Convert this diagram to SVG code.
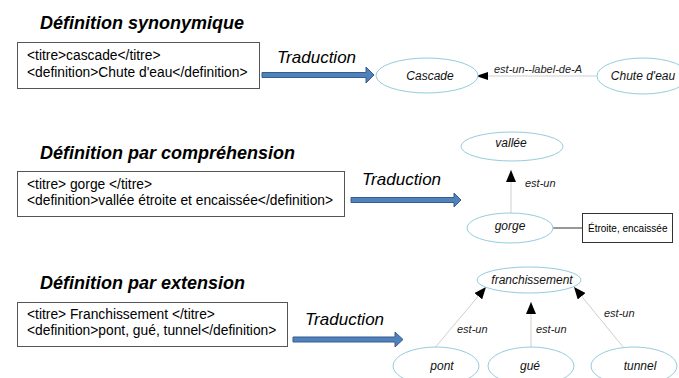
<svg xmlns="http://www.w3.org/2000/svg" width="679" height="378" viewBox="0 0 679 378">
<defs>
<style>
.title{font-family:"Liberation Sans",Arial,sans-serif;font-size:18px;font-weight:bold;font-style:italic;fill:#000}
.box{fill:#fff;stroke:#555;stroke-width:1}
.btxt{font-family:"Liberation Sans",Arial,sans-serif;font-size:13.8px;fill:#000}
.trad{font-family:"Liberation Sans",Arial,sans-serif;font-size:17px;font-style:italic;fill:#000}
.big{fill:#4f81bd;stroke:#385d8a;stroke-width:1}
.node{fill:#fff;stroke:#93cddd;stroke-width:1}
.ntxt{font-family:"Liberation Sans",Arial,sans-serif;font-size:12px;font-style:italic;fill:#111;text-anchor:middle}
.edge{stroke:#cfcfcf;stroke-width:1;fill:none}
.elbl{font-family:"Liberation Sans",Arial,sans-serif;font-size:11px;font-style:italic;fill:#222}
.note{font-family:"Liberation Sans",Arial,sans-serif;font-size:10px;fill:#000}
</style>
<marker id="ah" viewBox="0 0 12 10" refX="12" refY="5" markerWidth="12" markerHeight="10" markerUnits="userSpaceOnUse" orient="auto">
<path d="M0,0 L12,5 L0,10 Z" fill="#000"/>
</marker>
</defs>

<g id="section1">
<text class="title" x="40" y="29">Définition synonymique</text>
<rect class="box" x="17.5" y="42.5" width="242" height="46"/>
<text class="btxt" x="27" y="60">&lt;titre&gt;cascade&lt;/titre&gt;</text>
<text class="btxt" x="27" y="77">&lt;definition&gt;Chute d'eau&lt;/definition&gt;</text>
<text class="trad" x="277" y="63">Traduction</text>
<path class="big" d="M262,72.5 L366,72.5 L366,67 L374,75 L366,83 L366,77.5 L262,77.5 Z"/>
</g>

<g id="section2">
<text class="title" x="40" y="159">Définition par compréhension</text>
<rect class="box" x="17.5" y="171.5" width="327" height="45"/>
<text class="btxt" x="27" y="189">&lt;titre&gt; gorge &lt;/titre&gt;</text>
<text class="btxt" x="27" y="205">&lt;definition&gt;vallée étroite et encaissée&lt;/definition&gt;</text>
<text class="trad" x="362" y="185">Traduction</text>
<path class="big" d="M351,197.5 L454,197.5 L454,193 L461,200 L454,207 L454,202.5 L351,202.5 Z"/>
</g>

<g id="section3">
<text class="title" x="40" y="289">Définition par extension</text>
<rect class="box" x="17.5" y="302.5" width="270" height="44"/>
<text class="btxt" x="27" y="319">&lt;titre&gt; Franchissement &lt;/titre&gt;</text>
<text class="btxt" x="27" y="335">&lt;definition&gt;pont, gué, tunnel&lt;/definition&gt;</text>
<text class="trad" x="305" y="325">Traduction</text>
<path class="big" d="M293,337 L395,337 L395,332 L403,339.5 L395,347 L395,342 L293,342 Z"/>
</g>

<g id="connectors">
<line class="edge" x1="597" y1="76" x2="488" y2="76"/>
<path d="M488,72 L476,76 L488,80 Z" fill="#000"/>
<text class="elbl" x="494" y="73">est-un--label-de-A</text>

<line class="edge" x1="511" y1="213" x2="511" y2="170" marker-end="url(#ah)"/>
<text class="elbl" x="525" y="187">est-un</text>
<line x1="553" y1="228" x2="582" y2="228" stroke="#333" stroke-width="1"/>

<line class="edge" x1="433" y1="350" x2="486" y2="287" marker-end="url(#ah)"/>
<line class="edge" x1="531" y1="357" x2="531" y2="302" marker-end="url(#ah)"/>
<line class="edge" x1="628" y1="353" x2="574" y2="287" marker-end="url(#ah)"/>
<text class="elbl" x="457" y="333">est-un</text>
<text class="elbl" x="536" y="333">est-un</text>
<text class="elbl" x="604" y="317">est-un</text>
</g>

<g id="n-cascade"><ellipse class="node" cx="427" cy="75.5" rx="51" ry="17.5"/><text class="ntxt" x="430" y="80">Cascade</text></g>
<g id="n-chute"><ellipse class="node" cx="643" cy="76" rx="46" ry="18"/><text class="ntxt" x="643" y="80">Chute d'eau</text></g>
<g id="n-vallee"><ellipse class="node" cx="512" cy="146.5" rx="51" ry="14.5"/><text class="ntxt" x="511" y="147">vallée</text></g>
<g id="n-gorge"><ellipse class="node" cx="510" cy="228" rx="43" ry="15"/><text class="ntxt" x="510" y="230">gorge</text></g>
<g id="n-etroite"><rect x="582.5" y="213.5" width="90" height="29" fill="#fff" stroke="#333"/><text class="note" x="588" y="232">Étroite, encaissée</text></g>
<g id="n-franch"><ellipse class="node" cx="529" cy="280" rx="52" ry="13"/><text class="ntxt" x="532" y="284">franchissement</text></g>
<g id="n-pont"><ellipse class="node" cx="436" cy="366" rx="43" ry="19"/><text class="ntxt" x="442" y="370">pont</text></g>
<g id="n-gue"><ellipse class="node" cx="531" cy="366" rx="43" ry="19"/><text class="ntxt" x="530" y="370">gué</text></g>
<g id="n-tunnel"><ellipse class="node" cx="634" cy="366" rx="43" ry="19"/><text class="ntxt" x="640" y="370">tunnel</text></g>
</svg>
